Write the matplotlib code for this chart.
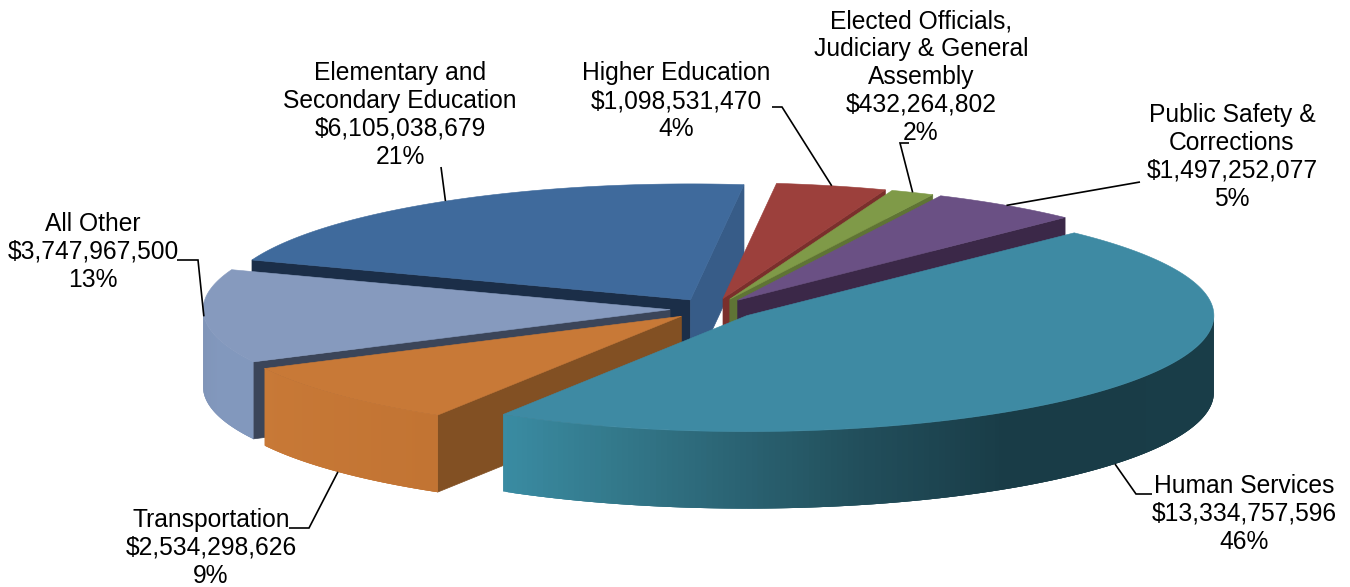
#!/usr/bin/env python3
"""Exploded 3D-look pie of the state budget, drawn on a pixel-sized axes."""

import matplotlib
matplotlib.use("Agg")
import matplotlib.pyplot as plt
from matplotlib.colors import to_rgb
from matplotlib.collections import PolyCollection
from matplotlib.patches import Polygon
import numpy as np

# ── Data ──────────────────────────────────────────────────────────────────────
names = ["Human Services", "Transportation", "All Other",
         "Elementary and\nSecondary Education", "Higher Education",
         "Elected Officials,\nJudiciary & General\nAssembly",
         "Public Safety &\nCorrections"]
values = [13334757596, 2534298626, 3747967500, 6105038679,
          1098531470, 432264802, 1497252077]
percents = ["46%", "9%", "13%", "21%", "4%", "2%", "5%"]

# ── Style ─────────────────────────────────────────────────────────────────────
TOP = ["#3e8aa3", "#c87937", "#869abe", "#3f6a9c", "#9c403c", "#7f9a48", "#6a5084"]
FACE = ["#1a3d48", "#825023", "#3b4559", "#1b2e48", "#7a2f2c", "#5f7435", "#3b2848"]
END_FACE = ["#1a3d48", "#825023", "#3b4559", "#375c88", "#7a2f2c", "#5f7435", "#3b2848"]
# wall colours by angle, one list per slice: (angle, colour)
WALL = [
    [(-122, "#3a8ca3"), (-106, "#33788a"), (-77, "#224f5c"), (-57, "#193c47"), (45, "#1a3e49")],
    [(-154, "#c87937"), (-122, "#c27433")],
    [(-180, "#7f93b6"), (-165, "#8298bd"), (-154, "#8298bd")],
    [(-277, "#3f6a9c"), (-200, "#3f6a9c")],
    [(-291, "#9c403c"), (-277, "#9c403c")],
    [(-296, "#7f9a48"), (-291, "#7f9a48")],
    [(-315, "#6a5084"), (-296, "#6a5084")],
]
DRAW_ORDER = [3, 4, 5, 6, 2, 1, 0]   # back to front

CX, CY = 713, 309      # pie centre in pixels
RX, RY = 467, 116      # ellipse of the top surface
DEPTH = 77
EXPLODE = 43           # px along x, scaled by RY/RX along y
START = 45.5           # angle where the first slice begins, going clockwise

# label centre, elbow of the leader, leader goes to wall instead of top rim
LABEL_POS = [(1244, 514), (211, 548), (93, 252), (400, 115), (676, 101), (921, 77), (1232, 157)]
ELBOW = [[(1152, 494), (1136, 494)], [(289, 528), (309, 528)], [(177, 260), (198, 260)],
         [(441, 167)], [(772, 107), (782, 107)], [(909, 143), (900, 143)], [(1140, 182)]]
ON_WALL = [True, True, False, False, False, False, False]

plt.rcParams["font.family"] = ["Liberation Sans", "DejaVu Sans"]

fig = plt.figure(figsize=(13.5, 5.87), dpi=100, facecolor="white")
ax = fig.add_axes([0, 0, 1, 1])
ax.set_xlim(0, 1350)
ax.set_ylim(587, 0)
ax.axis("off")

fracs = np.array(values) / np.sum(values)
edges = START - 360 * np.concatenate([[0], np.cumsum(fracs)])


def apex(i):
    mid = np.radians((edges[i] + edges[i + 1]) / 2)
    return CX + EXPLODE * np.cos(mid), CY - EXPLODE * RY / RX * np.sin(mid)


def rim(i, deg):
    ax0, ay0 = apex(i)
    t = np.radians(deg)
    return ax0 + RX * np.cos(t), ay0 - RY * np.sin(t)


def radial_face(i, deg, color):
    p0, p1 = apex(i), rim(i, deg)
    ax.add_patch(Polygon([p0, p1, (p1[0], p1[1] + DEPTH), (p0[0], p0[1] + DEPTH)],
                         closed=True, fc=color, ec=color, lw=0.5))


for i in DRAW_ORDER:
    t0, t1 = edges[i], edges[i + 1]     # t0 > t1, clockwise

    # radial faces that look at the viewer
    if np.sin(np.radians(t0 + 90)) < 0:
        radial_face(i, t0, FACE[i])
    if np.sin(np.radians(t1 - 90)) < 0:
        radial_face(i, t1, END_FACE[i])

    # outer wall, only the front half, in overlapping strips for the gradient
    ts = np.linspace(t1, t0, 240)
    ts = ts[np.sin(np.radians(ts)) <= 0.01]
    if len(ts) > 1:
        stops = WALL[i]
        ang = [s[0] for s in stops]
        rgb = np.array([to_rgb(s[1]) for s in stops])
        quads, cols = [], []
        for k0 in range(len(ts) - 1):
            a, b = ts[k0], ts[min(k0 + 3, len(ts) - 1)]
            pa, pb = rim(i, a), rim(i, b)
            quads.append([pa, pb, (pb[0], pb[1] + DEPTH), (pa[0], pa[1] + DEPTH)])
            cols.append([np.interp(a, ang, rgb[:, k]) for k in range(3)])
        ax.add_collection(PolyCollection(quads, facecolors=cols, edgecolors="none", linewidths=0))

    # top surface
    arc = [rim(i, d) for d in np.linspace(t0, t1, 200)]
    ax.add_patch(Polygon([apex(i)] + arc, closed=True, fc=TOP[i], ec=TOP[i], lw=0.4))

# ── Labels ────────────────────────────────────────────────────────────────────
for i, name in enumerate(names):
    mid = (edges[i] + edges[i + 1]) / 2
    end = rim(i, mid)
    if ON_WALL[i]:
        end = (end[0], end[1] + DEPTH)
    pts = ELBOW[i] + [end]
    ax.plot([p[0] for p in pts], [p[1] for p in pts], color="black", lw=1.2, zorder=5,
            solid_capstyle="butt", solid_joinstyle="miter")
    ax.text(LABEL_POS[i][0], LABEL_POS[i][1], f"{name}\n${values[i]:,}\n{percents[i]}",
            ha="center", va="center", fontsize=17.7, linespacing=1.2, color="black", zorder=6)

fig.savefig("out.png", dpi=100, facecolor="white")
plt.close(fig)
